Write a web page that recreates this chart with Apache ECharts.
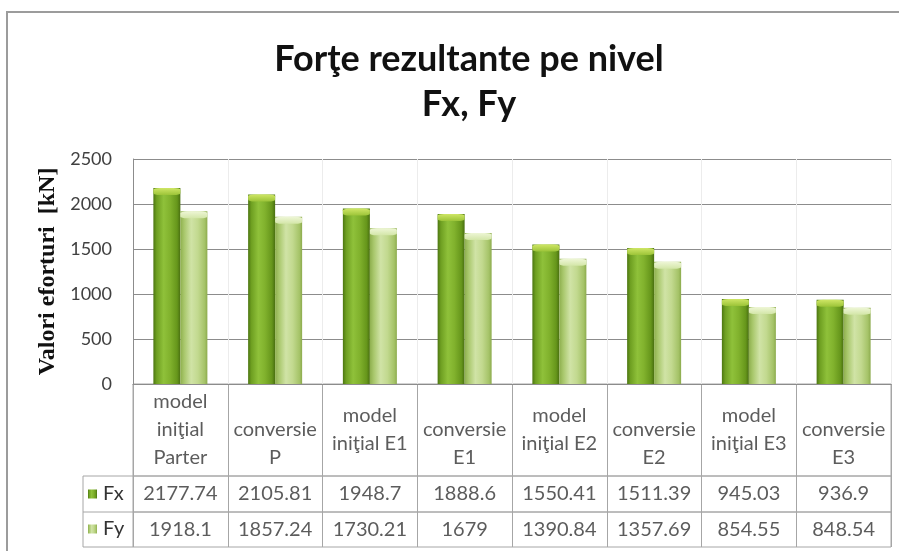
<!DOCTYPE html>
<html>
<head>
<meta charset="utf-8">
<title>Forţe rezultante pe nivel</title>
<script src="https://cdn.jsdelivr.net/npm/echarts@6/dist/echarts.min.js"></script>
<style>
  html, body { margin: 0; padding: 0; background: #fff; }
  #chart { width: 899px; height: 551px; }
</style>
</head>
<body>
<div id="chart"></div>
<script>
// ---- data ----
const categories = [
  'model\niniţial\nParter', '\nconversie\nP',
  'model\niniţial E1', '\nconversie\nE1',
  'model\niniţial E2', '\nconversie\nE2',
  'model\niniţial E3', '\nconversie\nE3'
];
const seriesNames = ['Fx', 'Fy'];
const fxValues = [2177.74, 2105.81, 1948.7, 1888.6, 1550.41, 1511.39, 945.03, 936.9];
const fyValues = [1918.1, 1857.24, 1730.21, 1679, 1390.84, 1357.69, 854.55, 848.54];
const yTicks = [0, 500, 1000, 1500, 2000, 2500];

// ---- layout ----
const L = {
  left: 133, right: 8,
  plotTop: 159, plotH: 225,
  headH: 92, rowH: [36, 35],
  keyLeft: 83,
  barW: 27
};
const headTop = L.plotTop + L.plotH;
const row1Top = headTop + L.headH;
const row2Top = row1Top + L.rowH[0];
const tableBottom = row2Top + L.rowH[1];

const FONT = 'Lato, "Open Sans", sans-serif';
const GRID_LINE = '#8c8c8c';
const TABLE_LINE = '#a6a6a6';
const TEXT = '#333333';

const g = echarts.graphic;
const fxBody = new g.LinearGradient(0, 0, 1, 0, [
  { offset: 0, color: '#4c7611' }, { offset: 0.12, color: '#6e9f21' },
  { offset: 0.38, color: '#8fc13a' }, { offset: 0.62, color: '#81b22d' },
  { offset: 0.88, color: '#66961b' }, { offset: 1, color: '#496f10' }
]);
const fyBody = new g.LinearGradient(0, 0, 1, 0, [
  { offset: 0, color: '#8eaf4e' }, { offset: 0.14, color: '#a8c76b' },
  { offset: 0.4, color: '#d0e3a6' }, { offset: 0.65, color: '#c2d98f' },
  { offset: 0.9, color: '#a5c368' }, { offset: 1, color: '#8cab4d' }
]);
const fxCap = new g.LinearGradient(0, 0, 0, 1, [
  { offset: 0, color: '#cfe666' }, { offset: 1, color: '#9cc438' }
]);
const fyCap = new g.LinearGradient(0, 0, 0, 1, [
  { offset: 0, color: '#eef6d6' }, { offset: 1, color: '#d3e6a8' }
]);

// one row of the data table: a grid whose cells are the category slots
function tableGrid(top, height) {
  return { left: L.left, right: L.right, top: top, height: height,
           show: true, borderColor: TABLE_LINE, borderWidth: 1, backgroundColor: 'transparent' };
}
function tableXAxis(gridIndex) {
  return {
    type: 'category', gridIndex: gridIndex, data: categories, boundaryGap: true,
    axisLine: { show: false }, axisTick: { show: false }, axisLabel: { show: false },
    splitLine: { show: true, lineStyle: { color: TABLE_LINE, width: 1 } }
  };
}
function tableYAxis(gridIndex) {
  return { type: 'value', gridIndex: gridIndex, min: 0, max: 1, show: false };
}
function tableTexts(gridIndex, texts, lineHeight) {
  return {
    type: 'scatter', xAxisIndex: gridIndex, yAxisIndex: gridIndex,
    symbolSize: 0, silent: true, legendHoverLink: false,
    data: texts.map((t, i) => ({ value: [i, 0.5], name: String(t) })),
    label: {
      show: true, position: 'inside', formatter: '{b}',
      fontFamily: FONT, fontSize: 20, color: TEXT, lineHeight: lineHeight, align: 'center'
    },
    tooltip: { show: false }
  };
}
// lighter bevel at the top of each column
function capSeries(values, color) {
  return {
    type: 'pictorialBar', data: values, symbol: 'roundRect', symbolSize: [L.barW, 7],
    symbolPosition: 'end', symbolOffset: [0, 0], barWidth: L.barW, barGap: '0%',
    itemStyle: { color: color }, z: 3, silent: true, legendHoverLink: false
  };
}

const chart = echarts.init(document.getElementById('chart'), null, { renderer: 'canvas' });

chart.setOption({
  backgroundColor: '#ffffff',
  animation: false,
  title: {
    text: 'Forţe rezultante pe nivel\nFx, Fy',
    left: 464, top: 32, textAlign: 'center',
    textStyle: { fontFamily: FONT, fontWeight: 'bold', fontSize: 36, lineHeight: 45, color: '#111' }
  },
  legend: {
    data: seriesNames, orient: 'vertical', left: L.keyLeft + 5, top: row1Top + 8,
    itemWidth: 9, itemHeight: 9, itemGap: 15, padding: 0, icon: 'rect', selectedMode: false,
    textStyle: { fontFamily: FONT, fontSize: 20, lineHeight: 20, color: TEXT, padding: [0, 0, 0, 1] }
  },
  grid: [
    { left: L.left, right: L.right, top: L.plotTop, height: L.plotH },
    tableGrid(headTop, L.headH),
    tableGrid(row1Top, L.rowH[0]),
    tableGrid(row2Top, L.rowH[1])
  ],
  xAxis: [
    {
      type: 'category', gridIndex: 0, data: categories, boundaryGap: true,
      axisLine: { show: true, lineStyle: { color: GRID_LINE } },
      axisTick: { show: false }, axisLabel: { show: false },
      splitLine: { show: true, lineStyle: { color: '#ececec' } }
    },
    tableXAxis(1), tableXAxis(2), tableXAxis(3)
  ],
  yAxis: [
    {
      type: 'value', gridIndex: 0,
      min: yTicks[0], max: yTicks[yTicks.length - 1], interval: yTicks[1] - yTicks[0],
      name: 'Valori eforturi  [kN]', nameLocation: 'middle', nameGap: 62, nameRotate: 90,
      nameTextStyle: { fontFamily: '"Liberation Serif", "DejaVu Serif", serif', fontWeight: 'bold', fontSize: 24, color: '#111' },
      axisLine: { show: true, lineStyle: { color: GRID_LINE } },
      axisTick: { show: false },
      axisLabel: { fontFamily: FONT, fontSize: 18, color: '#404040', margin: 21, formatter: v => String(v) },
      splitLine: { show: true, lineStyle: { color: GRID_LINE } }
    },
    tableYAxis(1), tableYAxis(2), tableYAxis(3)
  ],
  series: [
    {
      name: seriesNames[0], type: 'bar', data: fxValues, barWidth: L.barW, barGap: '0%',
      itemStyle: { color: fxBody }, z: 2
    },
    {
      name: seriesNames[1], type: 'bar', data: fyValues, barWidth: L.barW, barGap: '0%',
      itemStyle: { color: fyBody }, z: 2
    },
    capSeries(fxValues, fxCap),
    capSeries(fyValues, fyCap),
    tableTexts(1, categories, 28),
    tableTexts(2, fxValues, 22),
    tableTexts(3, fyValues, 22)
  ],
  graphic: [
    // chart frame
    { type: 'rect', shape: { x: 7, y: 12, width: 1000, height: 700 },
      style: { fill: 'none', stroke: '#9c9c9c', lineWidth: 2 }, silent: true, z: -1 },
    // legend-key column of the data table
    { type: 'polyline', shape: { points: [[L.left, row1Top], [L.keyLeft, row1Top], [L.keyLeft, tableBottom], [L.left, tableBottom]] },
      style: { fill: 'none', stroke: TABLE_LINE, lineWidth: 1 }, silent: true },
    { type: 'line', shape: { x1: L.keyLeft, y1: row2Top, x2: L.left, y2: row2Top },
      style: { stroke: TABLE_LINE, lineWidth: 1 }, silent: true }
  ]
});
</script>
</body>
</html>
